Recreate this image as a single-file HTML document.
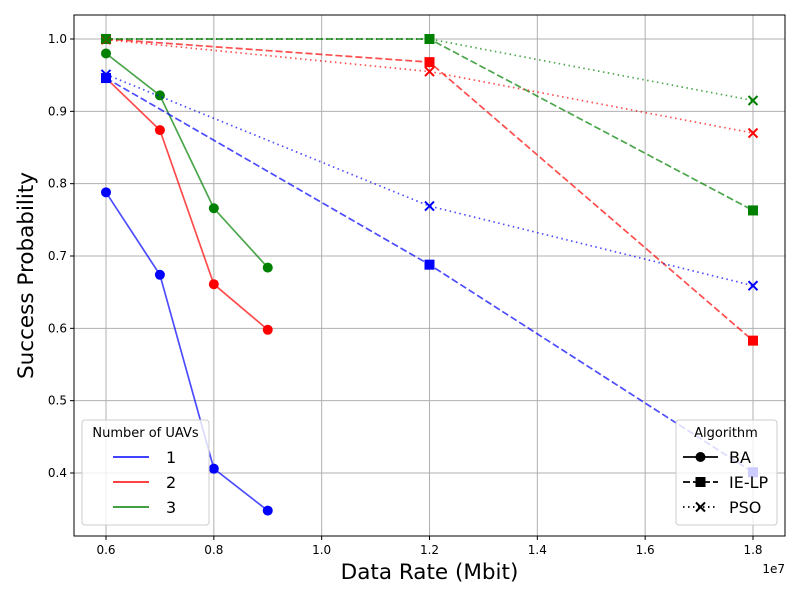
<!DOCTYPE html>
<html><head><meta charset="utf-8"><style>body{margin:0;background:#fff}svg{font-family:"DejaVu Sans","Liberation Sans",sans-serif}</style></head>
<body>
<svg id="chart" width="800" height="600" xmlns="http://www.w3.org/2000/svg">
<rect width="800" height="600" fill="#fff"/>
<g id="grid"></g><g id="series"></g><g id="axes"></g><g id="legends"></g>
</svg>
<script>
const baRates=[6e6,7e6,8e6,9e6];
const otherRates=[6e6,12e6,18e6];
const ba1=[0.788,0.674,0.406,0.348];
const ba2=[0.946,0.874,0.661,0.598];
const ba3=[0.980,0.922,0.766,0.684];
const ie1=[0.946,0.688,0.401];
const ie2=[1.0,0.968,0.583];
const ie3=[1.0,1.0,0.763];
const pso1=[0.951,0.769,0.659];
const pso2=[0.999,0.955,0.870];
const pso3=[1.0,1.0,0.915];
const xTicks=[0.6e7,0.8e7,1.0e7,1.2e7,1.4e7,1.6e7,1.8e7];
const xTickLabels=["0.6","0.8","1.0","1.2","1.4","1.6","1.8"];
const yTicks=[0.4,0.5,0.6,0.7,0.8,0.9,1.0];
const yTickLabels=["0.4","0.5","0.6","0.7","0.8","0.9","1.0"];
const uavLabels=["1","2","3"];
const algLabels=["BA","IE-LP","PSO"];

const NS="http://www.w3.org/2000/svg";
const L=74,R=785,T=15,B=536;
const xs=v=>106+(v-6e6)/12e6*(753-106);
const ys=v=>39+(1-v)/0.6*(473-39);
function mk(tag,attrs,parent){const e=document.createElementNS(NS,tag);for(const k in attrs)e.setAttribute(k,attrs[k]);parent.appendChild(e);return e;}
const grid=document.getElementById('grid'),axes=document.getElementById('axes'),ser=document.getElementById('series'),leg=document.getElementById('legends');
xTicks.forEach((t,i)=>{const x=xs(t);
 const g=mk('line',{x1:x,x2:x,y1:T,y2:B,stroke:'#b0b0b0','stroke-width':1},grid);
 
 mk('line',{x1:x,x2:x,y1:B,y2:B+4,stroke:'#000'},axes);
 const tx=mk('text',{x:x,y:B+18,'font-size':12,'text-anchor':'middle'},axes);tx.textContent=xTickLabels[i];
 });
yTicks.forEach((t,i)=>{const y=ys(t);
 const g=mk('line',{x1:L,x2:R,y1:y,y2:y,stroke:'#b0b0b0','stroke-width':1},grid);
 
 mk('line',{x1:L-4,x2:L,y1:y,y2:y,stroke:'#000'},axes);
 const tx=mk('text',{x:L-7,y:y+4,'font-size':12,'text-anchor':'end'},axes);tx.textContent=yTickLabels[i];
 });
const fr=mk('rect',{x:L,y:T,width:R-L,height:B-T,fill:'none',stroke:'#000','stroke-width':1},axes);

let t=mk('text',{x:(L+R)/2,y:579,'font-size':21.5,'text-anchor':'middle'},axes);t.textContent='Data Rate (Mbit)';

t=mk('text',{x:0,y:0,'font-size':21.5,'text-anchor':'middle',transform:`translate(33,${(T+B)/2}) rotate(-90)`},axes);t.textContent='Success Probability';

t=mk('text',{x:785,y:573,'font-size':12,'text-anchor':'end'},axes);t.textContent='1e7';


const cols=['#0000ff','#ff0000','#008000'];
const dashes={BA:'',IE:'7,3',PSO:'1.5,3.5'};
function marker(kind,x,y,c,p){
 if(kind==='BA')return mk('circle',{cx:x,cy:y,r:5,fill:c},p);
 if(kind==='IE')return mk('rect',{x:x-5,y:y-5,width:10,height:10,fill:c},p);
 return mk('path',{d:`M${x-4.5} ${y-4.5}L${x+4.5} ${y+4.5}M${x-4.5} ${y+4.5}L${x+4.5} ${y-4.5}`,stroke:c,'stroke-width':2},p);
}
function series(xv,yv,kind,ci,name){
 const g=mk('g',{},ser);
 const pts=xv.map((x,i)=>xs(x)+','+ys(yv[i])).join(' ');
 const a={points:pts,fill:'none',stroke:cols[ci],'stroke-width':1.7,'stroke-opacity':0.7};
 if(dashes[kind])a['stroke-dasharray']=dashes[kind];
 mk('polyline',a,g);
 xv.forEach((x,i)=>{const m=marker(kind,xs(x),ys(yv[i]),cols[ci],g);});
}
series(baRates,ba1,'BA',0,'ba-1-uav');series(baRates,ba2,'BA',1,'ba-2-uav');series(baRates,ba3,'BA',2,'ba-3-uav');
series(otherRates,ie1,'IE',0,'ielp-1-uav');series(otherRates,ie2,'IE',1,'ielp-2-uav');series(otherRates,ie3,'IE',2,'ielp-3-uav');
series(otherRates,pso1,'PSO',0,'pso-1-uav');series(otherRates,pso2,'PSO',1,'pso-2-uav');series(otherRates,pso3,'PSO',2,'pso-3-uav');

let lg=mk('g',{},leg);
mk('rect',{x:82,y:420,width:127,height:105,rx:3,fill:'#fff','fill-opacity':0.8,stroke:'#ccc'},lg);
t=mk('text',{x:145.5,y:437,'font-size':13,'text-anchor':'middle'},lg);t.textContent='Number of UAVs';
uavLabels.forEach((s,i)=>{const y=457+i*25;
 const e=mk('g',{},lg);
 mk('line',{x1:113,x2:149,y1:y,y2:y,stroke:cols[i],'stroke-width':1.7,'stroke-opacity':0.85},e);
 const tt=mk('text',{x:166,y:y+6,'font-size':16},e);tt.textContent=s;});
lg=mk('g',{},leg);
mk('rect',{x:676,y:420,width:101,height:105,rx:3,fill:'#fff','fill-opacity':0.8,stroke:'#ccc'},lg);
t=mk('text',{x:726,y:437,'font-size':13,'text-anchor':'middle'},lg);t.textContent='Algorithm';
['BA','IE','PSO'].forEach((k,i)=>{const y=457+i*25;
 const e=mk('g',{},lg);
 const a={x1:683,x2:718,y1:y,y2:y,stroke:'#000','stroke-width':1.7};if(dashes[k])a['stroke-dasharray']=dashes[k];
 mk('line',a,e);marker(k,700.5,y,'#000',e);
 const tt=mk('text',{x:729,y:y+6,'font-size':16},e);tt.textContent=algLabels[i];});
</script>
</body></html>
